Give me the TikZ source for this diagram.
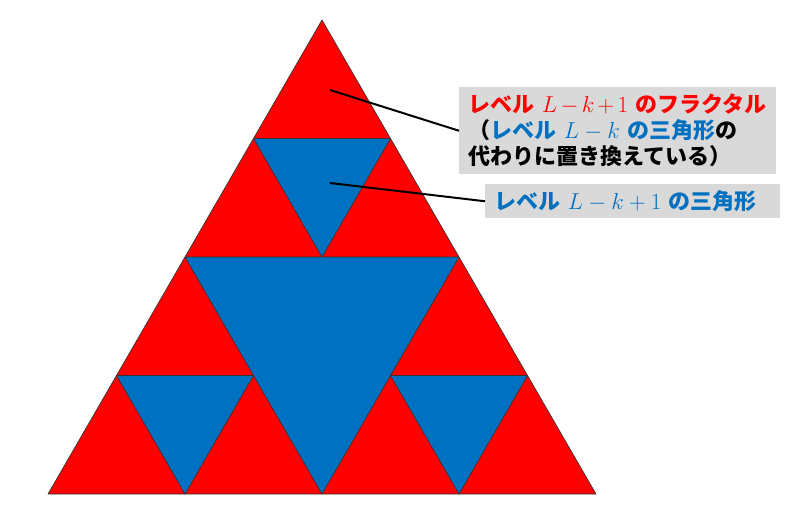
\documentclass[tikz,border=0pt]{standalone}
\usepackage{fontspec}
\usepackage{xcolor}
\usetikzlibrary{positioning, calc}
\newfontfamily\jpfont{Noto Sans CJK JP}
\definecolor{fracred}{RGB}{255,0,0}
\definecolor{triblue}{RGB}{0,112,192}
\definecolor{labelgray}{RGB}{217,217,217}
\newcommand{\lvl}[1]{{\fontsize{17pt}{17pt}\selectfont$#1$}}

\begin{document}
\begin{tikzpicture}[
    x=0.75pt, y=-0.75pt,
    redtri/.style={fill=fracred, draw=black!80, line width=0.5pt, line join=round},
    bluetri/.style={fill=triblue, draw=black!80, line width=0.5pt, line join=round},
    label/.style={rectangle, fill=labelgray, anchor=north west, inner xsep=7pt, align=left, font=\jpfont\bfseries\fontsize{16.5pt}{19.5pt}\selectfont},
    pointer/.style={draw=black, line width=1.5pt}
]
\useasboundingbox (0,0) rectangle (795,517);

% outer level triangle
\draw[redtri] (322,20) -- (596,494) -- (48,494) -- cycle;

% middle removed triangle
\draw[bluetri] (185,257) -- (459,257) -- (322,494) -- cycle;

% removed triangles of the three corners
\foreach \x/\y in {253.5/138.5, 116.5/375.5, 390.5/375.5}
  \draw[bluetri] (\x,\y) -- ++(137,0) -- ++(-68.5,118.5) -- cycle;

% labels
\node[label, text width=223.5pt, minimum height=65.25pt] (fractal) at (459,87)
  {{\color{fracred}レベル \lvl{L-k+1} のフラクタル}\\
   （{\color{triblue}レベル \lvl{L-k} の三角形}の\\
   代わりに置き換えている）};
\node[label, text width=207pt, minimum height=25.5pt] (triangle) at (485,184)
  {\color{triblue}レベル \lvl{L-k+1} の三角形};

\coordinate (topred) at (330,90);
\coordinate (topblue) at (330,183);

\draw[pointer] (topred) -- (fractal.west);
\draw[pointer] (topblue) -- (triangle.west);

\end{tikzpicture}
\end{document}
